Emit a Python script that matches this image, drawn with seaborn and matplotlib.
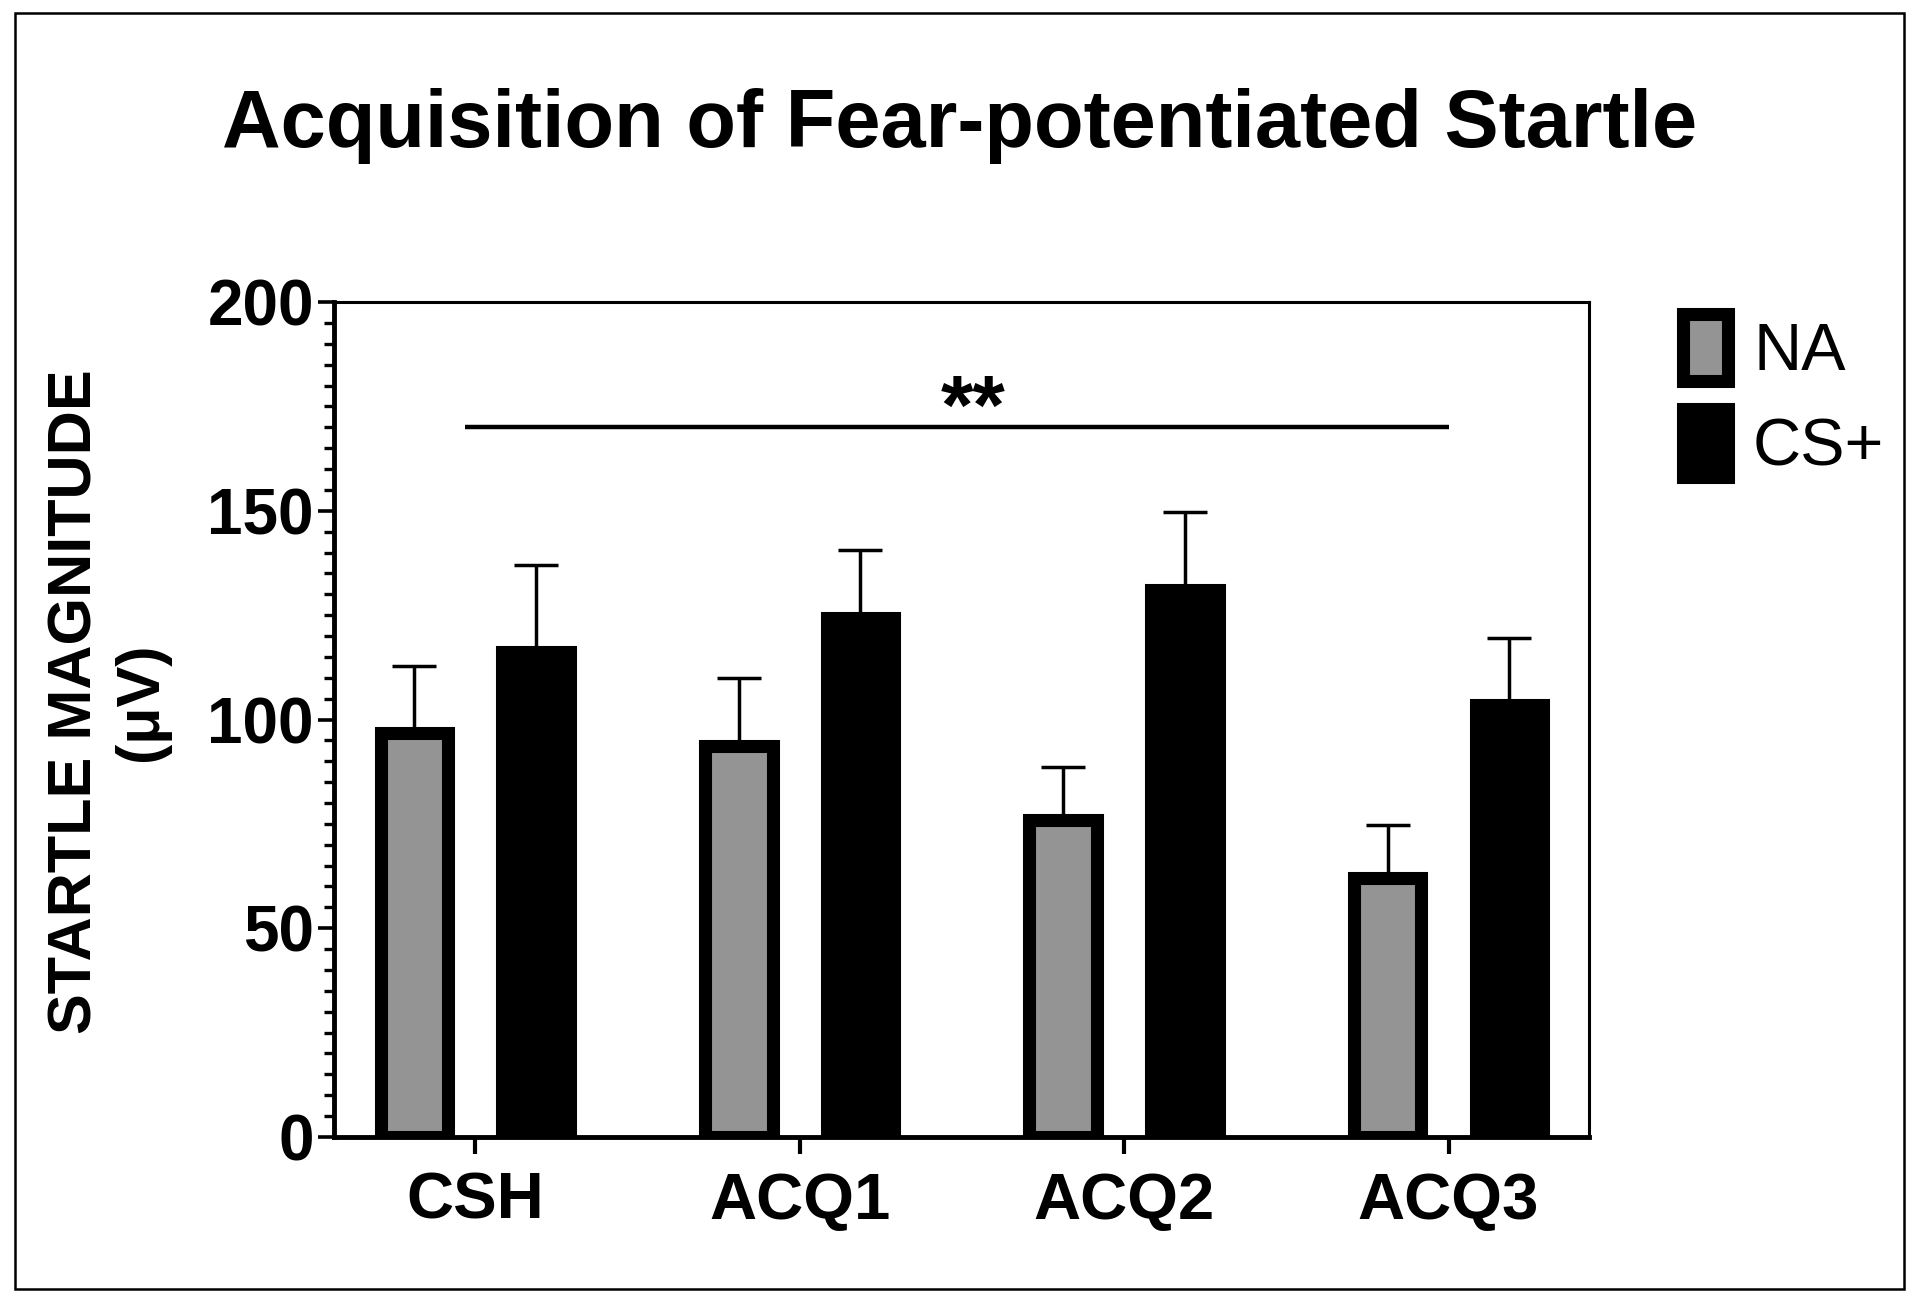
import matplotlib
matplotlib.use("Agg")
import matplotlib.pyplot as plt
import seaborn as sns
import pandas as pd
import numpy as np
from matplotlib.patches import Rectangle
from matplotlib.ticker import MultipleLocator

# ---- data ----
sessions = ["CSH", "ACQ1", "ACQ2", "ACQ3"]
conditions = ["NA", "CS+"]
na_mean = [96.8, 93.6, 75.9, 62.1]
na_sem = [16.1, 16.3, 12.8, 12.6]
csp_mean = [116.1, 124.3, 131.0, 103.5]
csp_sem = [20.8, 16.2, 18.8, 16.0]
y_ticks = [0, 50, 100, 150, 200]
sig_label = "**"
sig_level = 170
sig_span = ["CSH", "ACQ3"]
title = "Acquisition of Fear-potentiated Startle"
ylabel = "STARTLE MAGNITUDE\n(\u03bcV)"

df = pd.DataFrame({
    "session": sessions * 2,
    "condition": ["NA"] * len(sessions) + ["CS+"] * len(sessions),
    "mean": na_mean + csp_mean,
})
sems = [na_sem, csp_sem]

sns.set_theme(style="white")
plt.rcParams["font.family"] = ["Liberation Sans", "DejaVu Sans"]
plt.rcParams.update({"text.color": "black", "axes.labelcolor": "black",
                     "xtick.color": "black", "ytick.color": "black",
                     "axes.edgecolor": "black"})

fig = plt.figure(figsize=(19.2, 13.07), dpi=100)
ax = fig.add_axes([0.174, 0.1301, 0.6536, 0.6388])

palette = {"NA": "#949494", "CS+": "#000000"}
sns.barplot(data=df, x="session", y="mean", hue="condition", order=sessions,
            hue_order=conditions, palette=palette, width=0.75, gap=0.445,
            edgecolor="black", linewidth=9.4, errorbar=None, saturation=1,
            ax=ax)

# error bars (upper only)
for cont, errs in zip(ax.containers, sems):
    xs = [p.get_x() + p.get_width() / 2 for p in cont.patches]
    hs = [p.get_height() for p in cont.patches]
    ax.errorbar(xs, hs, yerr=[np.zeros(len(errs)), errs], fmt="none",
                ecolor="black", elinewidth=2.5, capsize=16, capthick=2.5,
                zorder=0.5)

# significance line
x0 = sessions.index(sig_span[0]) - 0.03
x1 = sessions.index(sig_span[1])
ax.hlines(sig_level, x0, x1, color="black", lw=3.2)
ax.text((x0 + x1) / 2 + 0.05, sig_level - 1.5, sig_label, ha="center",
        va="baseline", fontsize=60, fontweight="bold")

ax.set_xlim(-0.435, 3.433)
ax.set_ylim(0, 200)
ax.set_yticks(y_ticks)
ax.yaxis.set_minor_locator(MultipleLocator(5))
ax.set_xlabel("")
ax.set_ylabel("")

for s in ["left", "bottom"]:
    ax.spines[s].set_linewidth(3.5)
for s in ["top", "right"]:
    ax.spines[s].set_linewidth(2.2)
for s in ax.spines.values():
    s.set_color("black")
    s.set_visible(True)

ax.tick_params(axis="y", which="major", left=True, direction="out", length=11.5,
               width=2.6, labelsize=46, pad=3, color="black")
ax.tick_params(axis="y", which="minor", left=True, direction="out", length=7,
               width=2.4, color="black")
ax.tick_params(axis="x", which="major", bottom=True, direction="out", length=12.5,
               width=3, labelsize=47, pad=12.5, color="black")
for lbl in ax.get_xticklabels() + ax.get_yticklabels():
    lbl.set_fontweight("bold")

fig.text(108.5 / 1920, 1 - 702 / 1307, ylabel, rotation=90, ha="center",
         va="center", multialignment="center", fontsize=44, fontweight="bold",
         linespacing=1.2)

# legend
h, l = ax.get_legend_handles_labels()
if ax.get_legend() is not None:
    ax.get_legend().remove()
ax.legend(h, l, loc="upper left", bbox_to_anchor=(1.075, 0.986), frameon=False,
          fontsize=48, handlelength=0.68, handleheight=1.18, handletextpad=0.37,
          labelspacing=0.38, borderpad=0, borderaxespad=0)

fig.text(0.5, 0.8875, title, ha="center", va="baseline", fontsize=58.5,
         fontweight="bold")

fig.patches.append(Rectangle((0.0078, 0.0138), 0.9839, 0.9762,
                             transform=fig.transFigure, fill=False, lw=1.8,
                             edgecolor="black"))

fig.savefig("out.png", dpi=100, facecolor="white")
